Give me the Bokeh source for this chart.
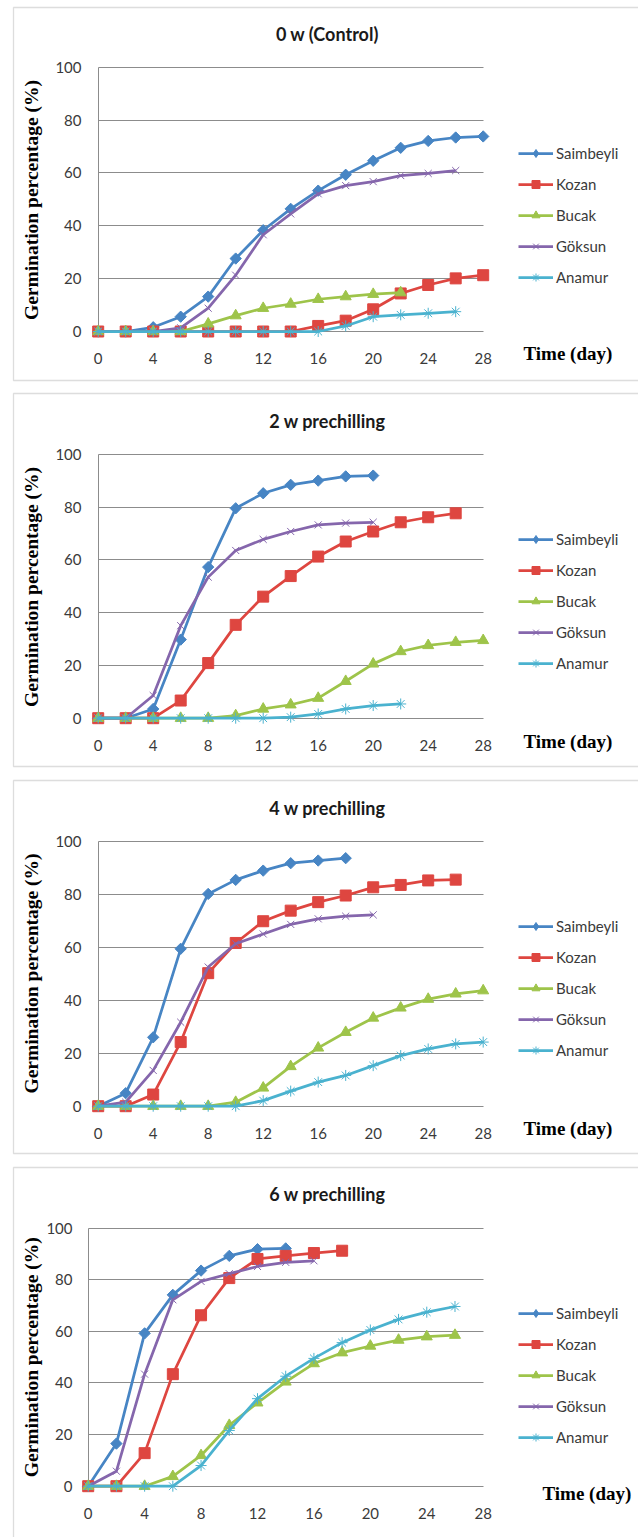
import math
from bokeh.plotting import figure
from bokeh.models import Range1d, FixedTicker, Legend, LegendItem, Label, BoxAnnotation
from bokeh.layouts import column
from bokeh.embed import file_html
from bokeh.resources import INLINE

# ---------------- data ----------------
days = [0, 2, 4, 6, 8, 10, 12, 14, 16, 18, 20, 22, 24, 26, 28]
x_ticks = [0, 4, 8, 12, 16, 20, 24, 28]
y_ticks = [0, 20, 40, 60, 80, 100]
series_names = ["Saimbeyli", "Kozan", "Bucak", "Göksun", "Anamur"]
panel_titles = ["0 w (Control)", "2 w prechilling", "4 w prechilling", "6 w prechilling"]

# 0 w (Control)
w0_saimbeyli = [0, 0, 1.6, 5.6, 13.2, 27.6, 38.3, 46.4, 53.3, 59.3, 64.6, 69.5, 72.1, 73.4, 73.8]
w0_kozan = [0, 0, 0, 0, 0, 0, 0, 0, 2.1, 4.1, 8.4, 14.4, 17.6, 20.1, 21.3]
w0_bucak = [0, 0, 0, 0, 2.9, 6.0, 8.8, 10.4, 12.2, 13.2, 14.1, 14.7]
w0_goksun = [0, 0, 0, 1.4, 8.8, 21.3, 36.6, 44.5, 52.1, 55.2, 56.7, 59.0, 59.8, 60.9]
w0_anamur = [0, 0, 0, 0, 0, 0, 0, 0, 0, 2.1, 5.6, 6.3, 6.9, 7.5]

# 2 w prechilling
w2_saimbeyli = [0, 0, 3.5, 29.8, 57.3, 79.6, 85.3, 88.5, 90.1, 91.7, 92.0]
w2_kozan = [0, 0, 0, 6.7, 20.9, 35.4, 46.1, 53.9, 61.3, 67.0, 70.8, 74.3, 76.2, 77.7]
w2_bucak = [0, 0, 0, 0, 0, 1.0, 3.5, 5.1, 7.6, 14.0, 20.6, 25.3, 27.6, 28.8, 29.5]
w2_goksun = [0, 0, 8.6, 35.1, 53.5, 63.6, 67.8, 70.8, 73.3, 74.0, 74.3]
w2_anamur = [0, 0, 0, 0, 0, 0, 0, 0.4, 1.6, 3.5, 4.8, 5.4]

# 4 w prechilling
w4_saimbeyli = [0, 4.9, 26.0, 59.4, 80.1, 85.4, 88.9, 91.7, 92.7, 93.6]
w4_kozan = [0, 0, 4.4, 24.2, 50.2, 61.6, 69.8, 73.8, 77.0, 79.5, 82.6, 83.5, 85.2, 85.5]
w4_bucak = [0, 0, 0, 0, 0, 1.5, 6.9, 15.0, 22.0, 27.9, 33.3, 37.1, 40.4, 42.4, 43.6]
w4_goksun = [0, 1.5, 13.5, 31.7, 52.5, 61.3, 65.0, 68.6, 70.7, 71.7, 72.2]
w4_anamur = [0, 0, 0, 0, 0, 0, 2.1, 5.7, 9.1, 11.6, 15.3, 19.1, 21.6, 23.5, 24.2]

# 6 w prechilling
w6_saimbeyli = [0, 16.5, 59.2, 74.1, 83.5, 89.2, 91.8, 92.1]
w6_kozan = [0, 0, 12.8, 43.4, 66.2, 80.6, 88.0, 89.2, 90.3, 91.2]
w6_bucak = [0, 0, 0, 3.8, 11.9, 23.6, 32.3, 40.4, 47.5, 51.7, 54.3, 56.6, 57.9, 58.5]
w6_goksun = [0, 5.8, 43.4, 72.2, 79.3, 82.3, 85.1, 86.7, 87.3]
w6_anamur = [0, 0, 0, 0, 8.0, 21.6, 33.9, 42.6, 49.5, 55.6, 60.5, 64.6, 67.4, 69.6]

panel_data = [
    [w0_saimbeyli, w0_kozan, w0_bucak, w0_goksun, w0_anamur],
    [w2_saimbeyli, w2_kozan, w2_bucak, w2_goksun, w2_anamur],
    [w4_saimbeyli, w4_kozan, w4_bucak, w4_goksun, w4_anamur],
    [w6_saimbeyli, w6_kozan, w6_bucak, w6_goksun, w6_anamur],
]

# ---------------- styles / layout ----------------
colors = ["#4785C4", "#DE4640", "#9EC44A", "#8566AC", "#4AB2CF"]
markers = [
    dict(marker="square", size=8, angle=0.7854, line_width=1, legend_marker="diamond"),
    dict(marker="square", size=11, angle=0.0, line_width=1, legend_marker=None),
    dict(marker="triangle", size=11, angle=0.0, line_width=1, legend_marker=None),
    dict(marker="x", size=10, angle=0.0, line_width=1, legend_marker=None),
    dict(marker="asterisk", size=11, angle=0.0, line_width=1, legend_marker=None),
]
filled = [True, True, True, False, False]
NAN = float("nan")

W = 638
# pixel geometry of each panel (canvas-relative)
layouts = [
    dict(h=386, x0=97.7, x28=482.7, y100=66.7, y0=331.0, ylab_r=81, ylab_c=199.5,
         title_y=33, time_x=523, time_y=353, leg_top=142.7, box_b=380),
    dict(h=387, x0=97.7, x28=482.7, y100=68.0, y0=331.7, ylab_r=81, ylab_c=200.5,
         title_y=34, time_x=523, time_y=355, leg_top=143.0, box_b=380),
    dict(h=387, x0=97.7, x28=482.7, y100=67.7, y0=332.7, ylab_r=81, ylab_c=200.0,
         title_y=34, time_x=523, time_y=355, leg_top=142.7, box_b=380),
    dict(h=377, x0=87.7, x28=482.7, y100=67.5, y0=325.7, ylab_r=72, ylab_c=196.7,
         title_y=33, time_x=542, time_y=333, leg_top=143.0, box_b=395),
]

TICK_FONT = "Lato"
SERIF = "Liberation Serif"
GRID = "#8c8c8c"


def make_panel(title, data, lay):
    h = lay["h"]
    pxd = (lay["x28"] - lay["x0"]) / 28.0
    pxu = (lay["y0"] - lay["y100"]) / 100.0
    X0 = -lay["x0"] / pxd
    X1 = 28 + (W - lay["x28"]) / pxd
    Y1 = 100 + lay["y100"] / pxu
    Y0 = -(h - lay["y0"]) / pxu

    def dx(px):
        return X0 + px / pxd

    def dy(py):
        return Y1 - py / pxu

    p = figure(width=W, height=h, x_range=Range1d(X0, X1), y_range=Range1d(Y0, Y1),
               output_backend="svg", toolbar_location=None,
               min_border_left=0, min_border_right=0, min_border_top=0, min_border_bottom=0)
    p.outline_line_color = None
    p.background_fill_color = "white"
    p.border_fill_color = "white"

    p.xaxis.ticker = FixedTicker(ticks=x_ticks)
    p.yaxis.ticker = FixedTicker(ticks=y_ticks)
    for ax in p.xaxis + p.yaxis:
        ax.axis_line_color = None
        ax.major_tick_line_color = None
        ax.minor_tick_line_color = None
        ax.major_tick_out = 0
        ax.major_tick_in = 0
        ax.minor_tick_out = 0
        ax.major_label_text_font = TICK_FONT
        ax.major_label_text_font_size = "15px"
        ax.major_label_text_color = "#3a3a3a"
    # tick labels are pulled into the plotting area, where the reference shows them
    p.xaxis.major_label_standoff = int(round((lay["y0"] + 21.5) - h))
    p.yaxis.major_label_standoff = -int(lay["ylab_r"])

    p.ygrid.grid_line_color = GRID
    p.ygrid.cross_bounds = (0, 28)
    p.xgrid.ticker = FixedTicker(ticks=[0])
    p.xgrid.grid_line_color = GRID
    p.xgrid.cross_bounds = (0, 100)

    # panel frame
    p.add_layout(BoxAnnotation(left=dx(13), right=dx(W + 10), top=dy(7), bottom=dy(lay["box_b"]),
                               fill_alpha=0, line_color="#8f8f8f", line_width=1.3))

    items = []
    for name, vals, col, mk, fl in zip(series_names, data, colors, markers, filled):
        xs = days[:len(vals)]
        lr = p.line(xs, vals, line_color=col, line_width=2.75)
        sr = p.scatter(xs, vals, marker=mk["marker"], size=mk["size"], angle=mk["angle"],
                       fill_color=col if fl else None, line_color=col, line_width=mk["line_width"])
        if mk["legend_marker"]:
            # key-only marker for the legend (a single NaN point, never drawn in the plot)
            kr = p.scatter(x=[NAN], y=[NAN], marker=mk["legend_marker"], size=mk["size"],
                           fill_color=col if fl else None, line_color=col,
                           line_width=mk["line_width"])
            items.append(LegendItem(label=name, renderers=[lr, kr]))
        else:
            items.append(LegendItem(label=name, renderers=[lr, sr]))

    leg_h = 5 * 20 + 4 * 11
    vx = 518
    vy = h - (lay["leg_top"] + leg_h)
    legend = Legend(items=items, location=(vx, vy), orientation="vertical",
                    glyph_width=35, glyph_height=20, label_height=20, spacing=11,
                    padding=0, margin=0, label_standoff=3,
                    border_line_color=None, background_fill_alpha=0,
                    label_text_font=TICK_FONT, label_text_font_size="15px",
                    label_text_color="#3a3a3a")
    p.add_layout(legend)

    p.add_layout(Label(x=dx(327), y=dy(lay["title_y"]), text=title, text_align="center",
                       text_baseline="middle", text_font=TICK_FONT, text_font_style="bold",
                       text_font_size="18px", text_color="#1a1a1a"))
    p.add_layout(Label(x=dx(lay["time_x"]), y=dy(lay["time_y"]), text="Time (day)",
                       text_align="left", text_baseline="middle", text_font=SERIF,
                       text_font_style="bold", text_font_size="19px", text_color="black"))
    p.add_layout(Label(x=dx(31), y=dy(lay["ylab_c"]), text="Germination percentage (%)",
                       angle=math.pi / 2, text_align="center", text_baseline="middle",
                       text_font=SERIF, text_font_style="bold", text_font_size="19.5px",
                       text_color="black"))
    return p


panels = [make_panel(t, d, l) for t, d, l in zip(panel_titles, panel_data, layouts)]
layout = column(*panels, spacing=0)

open("out.html", "w").write(file_html(layout, INLINE))
